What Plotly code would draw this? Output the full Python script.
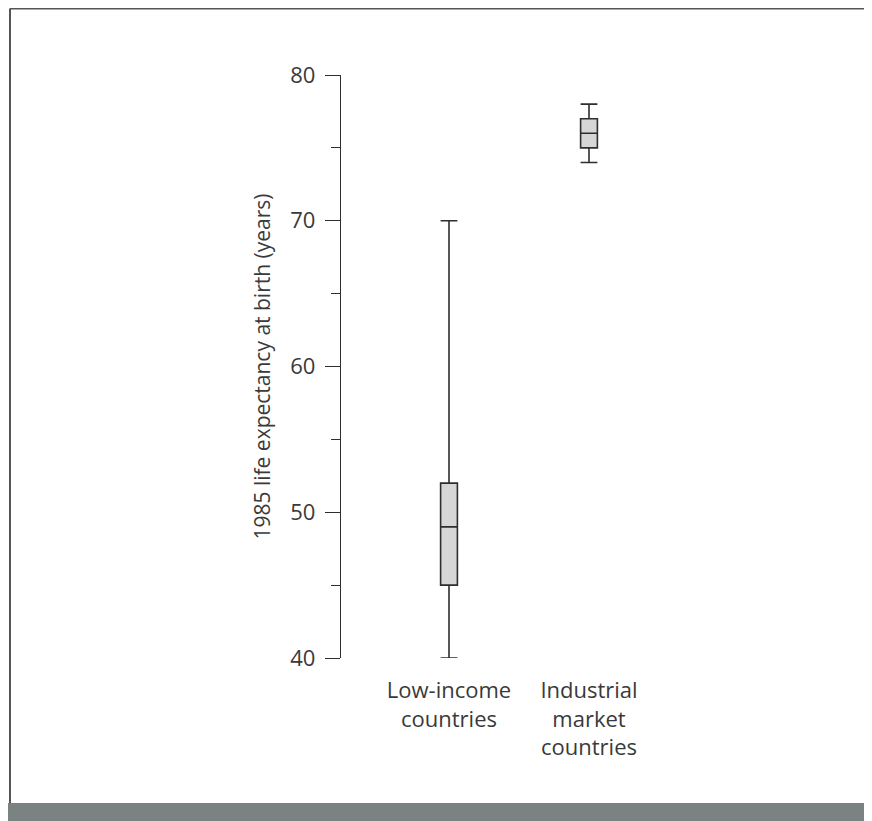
import plotly.graph_objects as go

categories = ["Low-income<br>countries", "Industrial<br>market<br>countries"]
positions = [0, 1]
lower_whisker = [40, 74]
q1 = [45, 75]
median = [49, 76]
q3 = [52, 77]
upper_whisker = [70, 78]
y_ticks = [40, 50, 60, 70, 80]

OFF = 8  # browser body margin
W, H = 872 - OFF, 821 - OFF
L, R, T, B = 341 - OFF, 800 - OFF, 75 - OFF, 658 - OFF  # plot area (figure px)

def px(X):
    return (X - OFF - L) / (R - L)

def py(Y):
    return (B - (Y - OFF)) / (B - T)

fig = go.Figure()
fig.add_trace(go.Box(
    x=positions,
    q1=q1, median=median, q3=q3,
    lowerfence=lower_whisker, upperfence=upper_whisker,
    width=0.12,
    whiskerwidth=1,
    fillcolor="#d6d6d6",
    line=dict(color="#2e2e2e", width=1.6),
    boxpoints=False,
    showlegend=False,
    hoverinfo="skip",
))

font_family = "'Open Sans', Lato, sans-serif"
fig.update_layout(
    width=W, height=H,
    margin=dict(l=L, r=W - R, t=T, b=H - B),
    paper_bgcolor="white", plot_bgcolor="white",
    font=dict(family=font_family, color="#3a3a3a"),
    xaxis=dict(
        range=[-(449 - OFF - L) / 140, (R - (449 - OFF)) / 140],
        tickvals=positions, ticktext=categories,
        showline=False, showgrid=False, zeroline=False,
        ticks="", ticklabelstandoff=17,
        tickfont=dict(size=22, color="#3a3a3a"),
        fixedrange=True,
    ),
    yaxis=dict(
        range=[40, 80],
        tickvals=y_ticks,
        showline=True, linecolor="#2e2e2e", linewidth=1.4,
        showgrid=False, zeroline=False,
        ticks="outside", ticklen=15, tickwidth=1.4, tickcolor="#2e2e2e",
        tickfont=dict(size=22, color="#3a3a3a"),
        ticklabelstandoff=5,
        minor=dict(dtick=5, tick0=40, ticks="outside", ticklen=9,
                   tickwidth=1.2, tickcolor="#2e2e2e", showgrid=False),
        title=dict(text="1985 life expectancy at birth (years)",
                   font=dict(size=21, color="#3a3a3a"), standoff=13),
    ),
    shapes=[
        dict(type="line", xref="paper", yref="paper",
             x0=px(10), x1=px(10), y0=py(8.5), y1=py(803),
             line=dict(color="#555555", width=2)),
        dict(type="line", xref="paper", yref="paper",
             x0=px(10), x1=px(890), y0=py(8.5), y1=py(8.5),
             line=dict(color="#555555", width=2)),
        dict(type="rect", xref="paper", yref="paper",
             x0=px(8), x1=px(890), y0=py(803), y1=py(840),
             line=dict(width=0), fillcolor="#7b8282"),
    ],
)

fig.write_html("out.html")
